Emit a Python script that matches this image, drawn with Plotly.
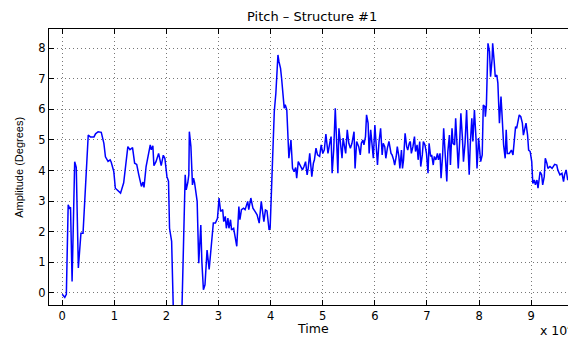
import plotly.graph_objects as go

# Time in units of 10^4, amplitude in degrees
time_e4 = [
    0.00, 0.05, 0.08, 0.115, 0.14, 0.16, 0.19, 0.24, 0.27, 0.31, 0.36, 0.40, 0.50, 0.54, 0.61, 0.64,
    0.69, 0.75, 0.80, 0.83, 0.88, 0.92, 0.94, 0.99, 1.02, 1.07, 1.12, 1.18, 1.26, 1.30, 1.35, 1.39,
    1.43, 1.47, 1.52, 1.55, 1.57, 1.61, 1.69, 1.71, 1.74, 1.76, 1.80, 1.85, 1.90, 1.94, 1.97, 2.01,
    2.04, 2.06, 2.10, 2.13, 2.18, 2.26,
    2.30, 2.36, 2.38, 2.41, 2.43, 2.44, 2.47, 2.50, 2.52, 2.54, 2.59, 2.62, 2.66, 2.68, 2.71, 2.74,
    2.78, 2.82, 2.86, 2.88, 2.90, 2.94, 2.98, 3.01, 3.04, 3.08, 3.10, 3.13, 3.15, 3.18, 3.20, 3.23,
    3.25, 3.29, 3.35, 3.39, 3.41, 3.44, 3.48, 3.51, 3.56, 3.58, 3.62, 3.66, 3.70, 3.74, 3.78, 3.82,
    3.87, 3.90, 3.93, 3.97, 3.99,
    4.03, 4.07, 4.10, 4.14, 4.16, 4.19, 4.21, 4.24, 4.26, 4.28, 4.31, 4.35, 4.39, 4.42, 4.45, 4.48,
    4.50, 4.53, 4.57, 4.61, 4.64, 4.67, 4.70, 4.72, 4.75, 4.79, 4.82, 4.84, 4.87, 4.90, 4.94, 4.97,
    5.00, 5.03, 5.06, 5.10, 5.14, 5.16, 5.18, 5.21, 5.24, 5.27, 5.29, 5.31, 5.34, 5.37, 5.39, 5.42,
    5.44, 5.47, 5.50, 5.53, 5.56, 5.60, 5.62, 5.65, 5.69, 5.72, 5.74, 5.77, 5.79, 5.82, 5.84, 5.87,
    5.89, 5.92, 5.95, 5.97,
    6.00, 6.02, 6.05, 6.08, 6.11, 6.14, 6.16, 6.19, 6.21, 6.24, 6.27, 6.31, 6.33, 6.36, 6.38, 6.41,
    6.43, 6.46, 6.48, 6.51, 6.53, 6.55, 6.58, 6.61, 6.63, 6.66, 6.68, 6.70, 6.73, 6.76, 6.78, 6.81,
    6.83, 6.86, 6.88, 6.91, 6.93, 6.96, 6.99, 7.02, 7.04, 7.07, 7.09, 7.12, 7.14, 7.17, 7.20, 7.22,
    7.25, 7.27, 7.30, 7.32, 7.35, 7.38, 7.40, 7.43, 7.45, 7.48, 7.50, 7.53, 7.55, 7.58, 7.60, 7.63,
    7.65, 7.68, 7.70, 7.73, 7.76, 7.78, 7.81, 7.83, 7.86, 7.88, 7.91, 7.94, 7.96, 7.99,
    8.03, 8.06, 8.08, 8.11, 8.12, 8.14, 8.17, 8.20, 8.22, 8.25, 8.26, 8.29, 8.31, 8.34, 8.36, 8.39,
    8.42, 8.44, 8.47, 8.50, 8.52, 8.54, 8.58, 8.62, 8.65, 8.67, 8.70, 8.72, 8.75, 8.77, 8.80, 8.83,
    8.85, 8.88, 8.90, 8.93, 8.95, 8.98, 9.01, 9.03, 9.06, 9.08, 9.11, 9.13, 9.17, 9.20, 9.22, 9.25,
    9.27, 9.30, 9.32, 9.36, 9.40, 9.45, 9.49, 9.51, 9.55, 9.59, 9.62, 9.64, 9.67, 9.70, 9.73, 9.76,
    9.78, 9.81, 9.83, 9.86,
]
amplitude = [
    -0.05, -0.15, -0.05, 2.88, 2.77, 2.80, 0.37, 4.29, 4.10, 0.81, 1.95, 1.95, 5.16, 5.10, 5.10, 5.20,
    5.27, 5.25, 4.89, 4.45, 4.30, 4.35, 4.28, 3.97, 3.42, 3.33, 3.26, 3.60, 4.78, 4.68, 4.75, 4.24,
    4.20, 3.86, 3.48, 3.62, 3.45, 4.13, 4.84, 4.68, 4.81, 4.16, 4.29, 4.56, 4.16, 4.50, 4.40, 3.80,
    3.65, 2.11, 1.68, -0.39, -1.50, -1.30,
    -0.40, 3.86, 3.37, 3.60, 3.86, 5.27, 4.78, 3.53, 3.75, 3.60, 2.99, 0.97, 2.22, 1.02, 0.10, 0.26,
    1.40, 0.76, 1.69, 1.90, 2.28, 2.28, 2.44, 3.10, 2.66, 2.72, 2.33, 2.50, 2.11, 2.44, 2.11, 2.39,
    2.06, 2.11, 1.52, 2.82, 2.39, 2.72, 2.77, 2.72, 2.99, 2.72, 3.10, 2.77, 2.66, 2.55, 2.28, 2.99,
    2.33, 2.71, 2.68, 2.06, 2.11,
    4.07, 5.93, 6.53, 7.78, 7.56, 7.34, 7.02, 6.26, 6.04, 6.15, 5.98, 4.40, 5.00, 4.07, 3.96, 4.10,
    3.75, 4.29, 4.13, 4.02, 4.13, 4.29, 3.86, 4.07, 4.56, 3.80, 4.24, 4.35, 4.73, 4.51, 4.46, 4.84,
    4.56, 4.68, 5.19, 4.56, 4.95, 5.11, 3.91, 4.68, 6.04, 4.62, 3.91, 5.38, 4.95, 4.40, 5.06, 4.78,
    4.56, 5.33, 4.89, 4.73, 4.89, 5.27, 4.07, 4.95, 4.78, 4.51, 4.89, 5.00, 4.84, 5.11, 5.82, 5.55,
    4.56, 5.33, 4.84, 4.40,
    5.49, 5.06, 4.18, 4.95, 5.38, 4.51, 4.89, 4.78, 4.40, 4.73, 4.95, 4.56, 4.51, 4.35, 4.18, 4.46,
    4.78, 4.46, 4.07, 4.67, 4.07, 4.35, 5.22, 4.78, 4.67, 4.89, 4.95, 4.56, 4.78, 5.11, 4.62, 4.84,
    4.35, 4.95, 4.13, 4.51, 4.95, 4.84, 4.56, 3.91, 4.89, 4.46, 4.51, 4.18, 4.46, 4.35, 4.56, 4.35,
    4.56, 3.75, 4.51, 5.38, 4.40, 3.64, 4.62, 5.16, 4.18, 5.38, 4.89, 4.84, 5.71, 4.73, 4.07, 5.06,
    5.87, 5.06, 4.29, 4.89, 5.98, 5.06, 3.86, 4.84, 5.71, 4.95, 5.98, 5.06, 4.07, 5.06,
    4.29, 4.51, 6.14, 6.09, 5.76, 6.14, 8.16, 7.89, 7.07, 7.67, 8.16, 7.56, 7.07, 7.12, 6.86, 5.55,
    6.42, 5.82, 4.84, 4.40, 5.33, 4.56, 4.56, 4.67, 4.51, 4.89, 5.44, 5.38, 5.66, 5.82, 5.76, 5.55,
    5.16, 5.44, 5.55, 5.16, 4.67, 4.62, 4.29, 3.58, 3.69, 3.53, 3.69, 3.42, 3.96, 3.86, 3.53, 3.80,
    4.40, 4.24, 4.07, 4.13, 4.07, 4.20, 4.18, 4.02, 3.86, 3.91, 3.64, 3.86, 4.02, 3.69, 3.75, 3.64,
    3.75, 3.69, 3.86, 3.90,
]

x_ticks = [0, 1, 2, 3, 4, 5, 6, 7, 8, 9]
y_ticks = [0, 1, 2, 3, 4, 5, 6, 7, 8]

FONT = "DejaVu Sans, Liberation Sans, Arial, sans-serif"
FONT_NARROW = "Liberation Sans, Arial, Helvetica, sans-serif"

fig = go.Figure()
fig.add_trace(go.Scatter(
    x=time_e4, y=amplitude, mode="lines",
    line=dict(color="#0000ff", width=1.5),
    hoverinfo="skip", showlegend=False,
))

axis_common = dict(
    showline=True, linecolor="black", linewidth=1, mirror="ticks",
    ticks="inside", ticklen=5, tickwidth=1, tickcolor="black",
    showgrid=True, gridcolor="#777777", gridwidth=1, griddash="1px,3px",
    zeroline=False,
    tickfont=dict(family=FONT, size=11.5, color="black"),
)

fig.update_xaxes(range=[-0.253, 9.84], tickvals=x_ticks,
                 ticktext=[str(v) for v in x_ticks], **axis_common)
fig.update_yaxes(range=[-0.40, 8.63], tickvals=y_ticks,
                 ticktext=[str(v) for v in y_ticks], **axis_common)

# The page body has an 8px margin, so the figure is laid out in page
# coordinates shifted by OFF.
OFF = 8
W, H = 576 - OFF, 337 - OFF
L, R, T, B = 40.5, 0.5, 20.5, 32
pw, ph = W - L - R, H - T - B

def px(xp):
    return (xp - OFF - L) / pw

def py(yp):
    return (H - B - (yp - OFF)) / ph

fig.update_layout(
    width=W, height=H,
    margin=dict(l=L, r=R, t=T, b=B, pad=0, autoexpand=False),
    paper_bgcolor="white", plot_bgcolor="white",
    font=dict(family=FONT, color="black"),
    annotations=[
        dict(text="Pitch \u2013 Structure #1", x=px(312), y=py(16), xref="paper", yref="paper",
             showarrow=False, xanchor="center", yanchor="middle",
             font=dict(family=FONT, size=13)),
        dict(text="Time", x=px(313), y=py(328.5), xref="paper", yref="paper",
             showarrow=False, xanchor="center", yanchor="middle",
             font=dict(family=FONT, size=12.5)),
        dict(text="Amplitude (Degrees)", x=px(19), y=py(167), xref="paper", yref="paper",
             showarrow=False, xanchor="center", yanchor="middle", textangle=-90,
             font=dict(family=FONT_NARROW, size=11)),
        dict(text="x 10<sup>4</sup>", x=px(538), y=py(330), xref="paper", yref="paper",
             showarrow=False, xanchor="left", yanchor="middle",
             font=dict(family=FONT, size=12.5)),
    ],
)

fig.write_html("out.html")
